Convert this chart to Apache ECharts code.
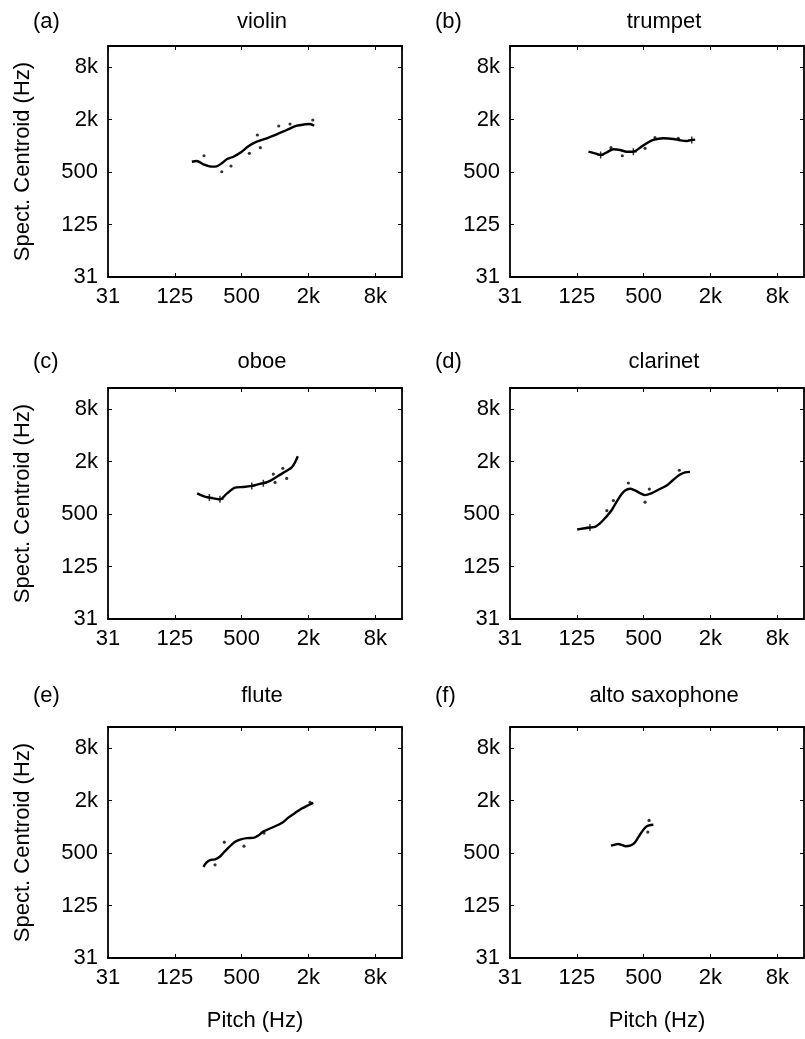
<!DOCTYPE html>
<html>
<head>
<meta charset="utf-8">
<script src="https://cdn.jsdelivr.net/npm/echarts@6/dist/echarts.min.js"></script>
<style>
  html, body { margin: 0; padding: 0; background: #fff; }
  #chart { width: 805px; height: 1039px; }
</style>
</head>
<body>
<div id="chart"></div>
<script>
// Both axes are logarithmic in octave pairs (factor 4) starting at 31.25 Hz
const tickHz = [31.25, 125, 500, 2000, 8000];
const tickLabels = ['31', '125', '500', '2k', '8k'];
const axisSpan = 4.4; // axis extent, in factors of 4 above 31.25 Hz

const panelLetters = ['(a)', '(b)', '(c)', '(d)', '(e)', '(f)'];
const instruments = ['violin', 'trumpet', 'oboe', 'clarinet', 'flute', 'alto saxophone'];

// [pitch Hz, spectral centroid Hz] – smoothed trend
const violinCurve = [[178,656],[197,669],[226,613],[269,576],[298,581],[331,629],[367,699],[421,748],[501,855],[575,985],[684,1113],[842,1217],[1035,1352],[1274,1516],[1569,1697],[1865,1762],[2068,1776],[2248,1697]];
const trumpetCurve = [[159,855],[182,819],[205,784],[233,841],[267,910],[306,894],[352,855],[404,855],[464,950],[533,1068],[612,1166],[753,1217],[926,1196],[1065,1156],[1222,1134],[1357,1166],[1452,1175]];
const oboeCurve = [[199,863],[226,803],[256,771],[288,750],[319,736],[367,856],[436,1005],[518,1021],[617,1050],[732,1106],[784,1127],[901,1199],[1071,1370],[1274,1565],[1415,1713],[1515,1958],[1603,2297]];
const clarinetCurve = [[126,332],[143,341],[164,350],[182,356],[202,390],[224,446],[258,556],[286,695],[317,846],[340,931],[377,974],[418,931],[464,868],[515,824],[591,868],[678,948],[807,1063],[926,1237],[1065,1415],[1181,1504],[1309,1519]];
const fluteCurve = [[226,347],[242,390],[260,415],[288,423],[313,446],[342,500],[379,572],[430,665],[484,713],[556,741],[637,746],[707,793],[784,882],[934,974],[1150,1103],[1318,1271],[1515,1440],[1741,1617],[1997,1766],[2213,1882]];
const saxCurve = [[254,607],[276,624],[296,635],[317,619],[345,598],[377,607],[412,648],[448,759],[487,891],[522,991],[559,1035],[612,1054]];

// [pitch Hz, spectral centroid Hz] – individual measured notes
const violinDots = [[229,768],[331,503],[401,586],[587,819],[693,1328],[737,950],[1079,1685],[1365,1776],[2187,1975]];
const trumpetDots = [[254,950],[321,768],[515,934],[633,1237],[1027,1217]];
const oboeDots = [[965,1434],[1000,1150],[1175,1669],[1274,1278]];
const clarinetDots = [[233,546],[267,713],[364,1134],[515,684],[563,965],[1049,1587]];
const fluteDots = [[349,665],[288,366],[525,598],[796,846],[2068,1910]];
const saxDots = [[560,1183],[545,868]];

// notes lying on the trend, drawn as crosses
const trumpetCrosses = [[205,784],[404,855],[1357,1166]];
const oboeCrosses = [[256,771],[319,736],[617,1050],[784,1127]];
const clarinetCrosses = [[164,350]];

const curves = [violinCurve, trumpetCurve, oboeCurve, clarinetCurve, fluteCurve, saxCurve];
const dots = [violinDots, trumpetDots, oboeDots, clarinetDots, fluteDots, saxDots];
const crosses = [[], trumpetCrosses, oboeCrosses, clarinetCrosses, [], []];

const FONT = "'Liberation Sans', Arial, Helvetica, sans-serif";
const toAxis = hz => Math.log(hz / tickHz[0]) / Math.log(4);
const mapPts = arr => arr.map(p => [toAxis(p[0]), toAxis(p[1])]);
const tickFmt = v => {
  const i = Math.round(v);
  return Math.abs(v - i) < 1e-6 && tickLabels[i] !== undefined ? tickLabels[i] : '';
};

const colLeft = [108, 510];
const rowTop = [46, 388, 727];
const gridW = 294, gridH = 231;
const titleTop = [6, 346, 680];

const grids = [], xAxes = [], yAxes = [], series = [], titles = [];
const baseAxis = {
  type: 'value', min: 0, max: axisSpan, interval: 1,
  axisLine: { show: true, onZero: false, lineStyle: { color: '#000', width: 1.8 } },
  axisTick: { show: true, inside: true, length: 4, lineStyle: { color: '#000', width: 1 } },
  splitLine: { show: false },
};
const labelStyle = { color: '#000', fontFamily: FONT, fontSize: 22 };

for (let g = 0; g < 6; g++) {
  const row = Math.floor(g / 2), col = g % 2;
  grids.push({ left: colLeft[col], top: rowTop[row], width: gridW, height: gridH, containLabel: false });

  const xBottom = Object.assign({}, baseAxis, {
    gridIndex: g, position: 'bottom',
    axisLabel: Object.assign({ show: true, margin: 9, formatter: tickFmt, showMaxLabel: false }, labelStyle),
  });
  if (row === 2) {
    xBottom.name = 'Pitch (Hz)';
    xBottom.nameLocation = 'middle';
    xBottom.nameGap = 52;
    xBottom.nameTextStyle = labelStyle;
  }
  xAxes.push(xBottom);
  xAxes.push(Object.assign({}, baseAxis, { gridIndex: g, position: 'top', axisLabel: { show: false } }));

  const yLeft = Object.assign({}, baseAxis, {
    gridIndex: g, position: 'left',
    axisLabel: Object.assign({ show: true, margin: 10, formatter: tickFmt, showMaxLabel: false }, labelStyle),
  });
  if (col === 0) {
    yLeft.name = 'Spect. Centroid (Hz)';
    yLeft.nameLocation = 'middle';
    yLeft.nameGap = 74;
    yLeft.nameTextStyle = labelStyle;
  }
  yAxes.push(yLeft);
  yAxes.push(Object.assign({}, baseAxis, { gridIndex: g, position: 'right', axisLabel: { show: false } }));

  const xi = 2 * g, yi = 2 * g;
  series.push({
    type: 'line', xAxisIndex: xi, yAxisIndex: yi, data: mapPts(curves[g]),
    smooth: 0.3, symbol: 'none', silent: true,
    lineStyle: { color: '#000', width: 2.4 },
  });
  series.push({
    type: 'scatter', xAxisIndex: xi, yAxisIndex: yi, data: mapPts(dots[g]),
    symbol: 'circle', symbolSize: 3.2, silent: true,
    itemStyle: { color: '#000' },
  });
  if (crosses[g].length) {
    series.push({
      type: 'scatter', xAxisIndex: xi, yAxisIndex: yi, data: mapPts(crosses[g]),
      symbol: 'path://M0,5L10,5M5,0L5,10', symbolSize: 7, silent: true,
      itemStyle: { color: 'rgba(0,0,0,0)', borderColor: '#000', borderWidth: 1.5 },
    });
  }

  titles.push({
    text: panelLetters[g], left: colLeft[col] - 80, top: titleTop[row],
    textStyle: { color: '#000', fontFamily: FONT, fontSize: 22, fontWeight: 'normal' },
  });
  titles.push({
    text: instruments[g], left: colLeft[col] + gridW / 2 + 2, top: titleTop[row], textAlign: 'center',
    textStyle: { color: '#000', fontFamily: FONT, fontSize: 22, fontWeight: 'normal' },
  });
}

const chart = echarts.init(document.getElementById('chart'), null, { renderer: 'canvas' });
chart.setOption({
  animation: false,
  backgroundColor: '#fff',
  title: titles,
  grid: grids,
  xAxis: xAxes,
  yAxis: yAxes,
  series: series,
});
</script>
</body>
</html>
